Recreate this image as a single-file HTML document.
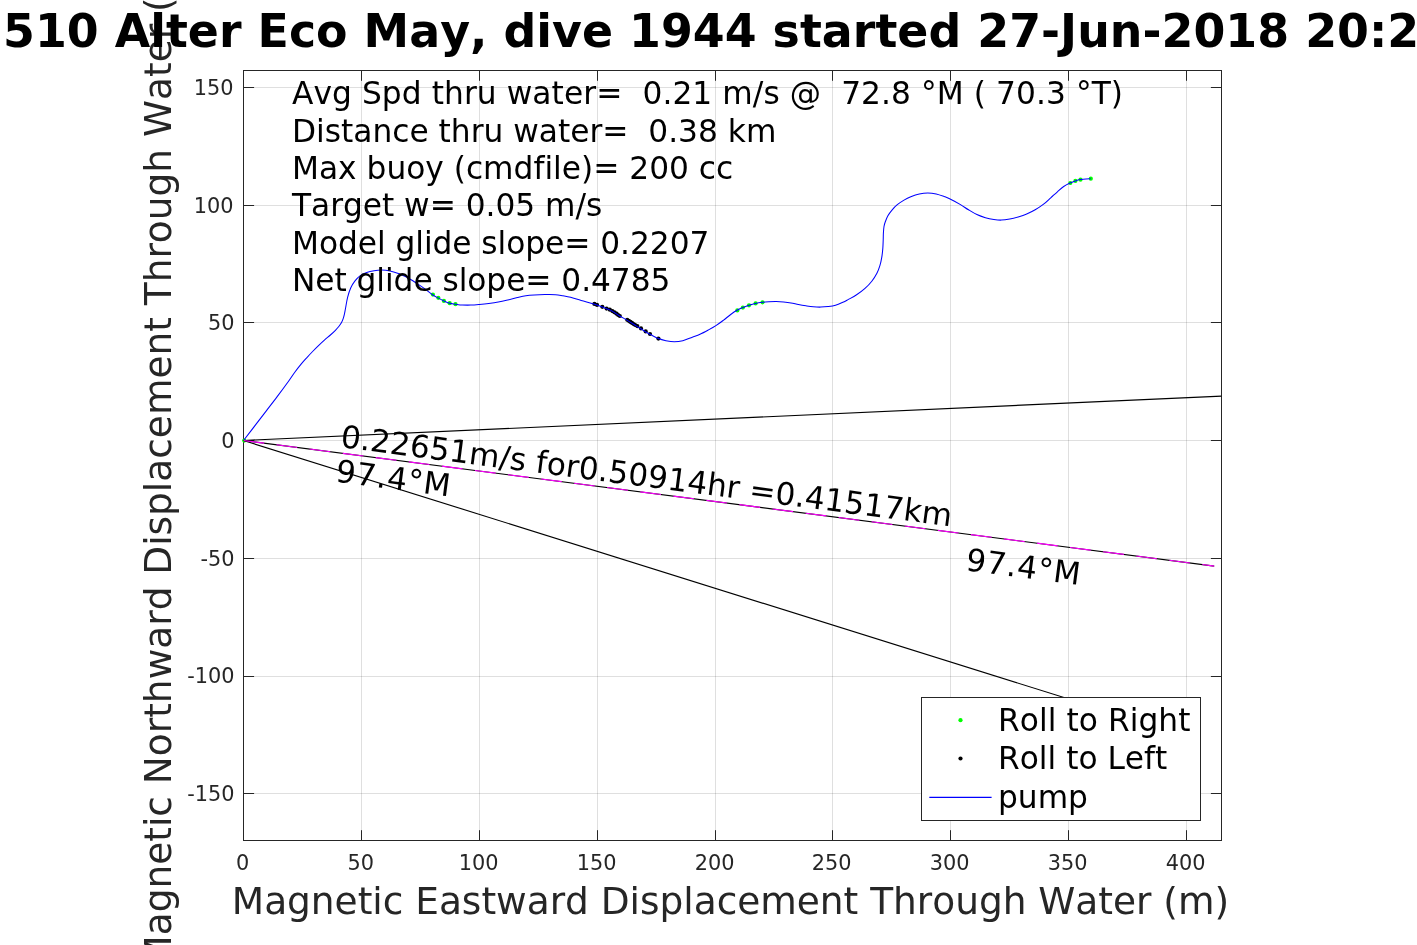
<!DOCTYPE html>
<html lang="en"><head><meta charset="utf-8"><title>510 Alter Eco May, dive 1944</title>
<style>html,body{margin:0;padding:0;background:#fff;overflow:hidden}svg{display:block}text{font-family:"DejaVu Sans","Liberation Sans",sans-serif;font-kerning:none;font-variant-ligatures:none;}.tk{font-size:20.83px;fill:#262626}.an{font-size:31.25px;fill:#000}.lb{font-size:37.5px;fill:#262626}.ti{font-size:45.83px;font-weight:bold;fill:#000}</style></head><body>
<svg width="1417" height="945" viewBox="0 0 1417 945">
<rect x="0" y="0" width="1417" height="945" fill="#fff"/>
<g stroke="#262626" stroke-opacity="0.15" stroke-width="1" fill="none">
<path d="M361.50,70.50 V840.50"/>
<path d="M479.50,70.50 V840.50"/>
<path d="M597.50,70.50 V840.50"/>
<path d="M715.50,70.50 V840.50"/>
<path d="M832.50,70.50 V840.50"/>
<path d="M950.50,70.50 V840.50"/>
<path d="M1068.50,70.50 V840.50"/>
<path d="M1186.50,70.50 V840.50"/>
<path d="M243.50,87.50 H1221.50"/>
<path d="M243.50,205.50 H1221.50"/>
<path d="M243.50,322.50 H1221.50"/>
<path d="M243.50,440.50 H1221.50"/>
<path d="M243.50,558.50 H1221.50"/>
<path d="M243.50,676.50 H1221.50"/>
<path d="M243.50,793.50 H1221.50"/>
</g>
<path d="M243.50,840.50 v-10.3 M243.50,70.50 v10.3 M361.50,840.50 v-10.3 M361.50,70.50 v10.3 M479.50,840.50 v-10.3 M479.50,70.50 v10.3 M597.50,840.50 v-10.3 M597.50,70.50 v10.3 M715.50,840.50 v-10.3 M715.50,70.50 v10.3 M832.50,840.50 v-10.3 M832.50,70.50 v10.3 M950.50,840.50 v-10.3 M950.50,70.50 v10.3 M1068.50,840.50 v-10.3 M1068.50,70.50 v10.3 M1186.50,840.50 v-10.3 M1186.50,70.50 v10.3 M243.50,87.50 h10.6 M1221.50,87.50 h-10.6 M243.50,205.50 h10.6 M1221.50,205.50 h-10.6 M243.50,322.50 h10.6 M1221.50,322.50 h-10.6 M243.50,440.50 h10.6 M1221.50,440.50 h-10.6 M243.50,558.50 h10.6 M1221.50,558.50 h-10.6 M243.50,676.50 h10.6 M1221.50,676.50 h-10.6 M243.50,793.50 h10.6 M1221.50,793.50 h-10.6" stroke="#262626" stroke-width="1" fill="none"/>
<rect x="243.50" y="70.50" width="978.00" height="770.00" fill="none" stroke="#262626" stroke-width="1"/>
<clipPath id="ax"><rect x="243.50" y="70.50" width="978.00" height="770.00"/></clipPath>
<g fill="#00ff00"><circle cx="244.2" cy="440.6" r="2.1"/><circle cx="432.9" cy="294.6" r="2.1"/><circle cx="438.3" cy="297.8" r="2.1"/><circle cx="443.9" cy="300.9" r="2.1"/><circle cx="449.7" cy="303.2" r="2.1"/><circle cx="455.5" cy="304.2" r="2.1"/><circle cx="737.3" cy="310.4" r="2.1"/><circle cx="742.9" cy="307.6" r="2.1"/><circle cx="749.0" cy="305.3" r="2.1"/><circle cx="755.6" cy="303.4" r="2.1"/><circle cx="762.5" cy="302.3" r="2.1"/><circle cx="1070.3" cy="183.0" r="2.1"/><circle cx="1075.4" cy="180.9" r="2.1"/><circle cx="1080.5" cy="179.7" r="2.1"/><circle cx="1090.8" cy="178.7" r="2.1"/></g>
<g fill="#000"><circle cx="594.4" cy="303.9" r="2.1"/><circle cx="597.0" cy="304.9" r="2.1"/><circle cx="602.3" cy="306.8" r="2.1"/><circle cx="606.6" cy="308.6" r="2.1"/><circle cx="609.8" cy="309.7" r="2.1"/><circle cx="612.4" cy="311.1" r="2.1"/><circle cx="614.5" cy="312.3" r="2.1"/><circle cx="616.6" cy="313.7" r="2.1"/><circle cx="618.2" cy="315.0" r="2.1"/><circle cx="619.8" cy="316.0" r="2.1"/><circle cx="627.2" cy="319.8" r="2.1"/><circle cx="628.8" cy="320.8" r="2.1"/><circle cx="630.4" cy="321.9" r="2.1"/><circle cx="632.0" cy="322.9" r="2.1"/><circle cx="633.6" cy="324.0" r="2.1"/><circle cx="635.2" cy="325.0" r="2.1"/><circle cx="637.3" cy="326.1" r="2.1"/><circle cx="641.0" cy="328.4" r="2.1"/><circle cx="645.7" cy="331.4" r="2.1"/><circle cx="650.0" cy="334.0" r="2.1"/><circle cx="658.4" cy="338.6" r="2.1"/></g>
<g clip-path="url(#ax)" fill="none" stroke-width="1.12">
<path d="M243.70,440.30 C245.73,437.65 252.10,429.35 255.90,424.40 C259.70,419.45 262.98,415.18 266.50,410.60 C270.02,406.02 273.27,401.88 277.00,396.90 C280.73,391.92 285.93,384.82 288.90,380.70 C291.87,376.58 292.83,374.88 294.80,372.20 C296.77,369.52 298.72,367.00 300.70,364.60 C302.68,362.20 304.72,359.98 306.70,357.80 C308.68,355.62 310.63,353.53 312.60,351.50 C314.57,349.47 316.53,347.50 318.50,345.60 C320.47,343.70 322.42,341.87 324.40,340.10 C326.38,338.33 328.57,336.63 330.40,335.00 C332.23,333.37 334.00,331.72 335.40,330.30 C336.80,328.88 337.80,327.77 338.80,326.50 C339.80,325.23 340.68,323.97 341.40,322.70 C342.12,321.43 342.62,320.23 343.10,318.90 C343.58,317.57 343.90,316.43 344.30,314.70 C344.70,312.97 344.95,311.40 345.50,308.50 C346.05,305.60 346.72,300.75 347.60,297.30 C348.48,293.85 349.57,290.53 350.80,287.80 C352.03,285.07 353.42,282.93 355.00,280.90 C356.58,278.87 358.35,277.00 360.30,275.60 C362.25,274.20 364.40,273.32 366.70,272.50 C369.00,271.68 371.63,271.12 374.10,270.70 C376.57,270.28 378.85,269.97 381.50,270.00 C384.15,270.03 387.18,270.32 390.00,270.90 C392.82,271.48 395.58,272.45 398.40,273.50 C401.22,274.55 403.90,275.60 406.90,277.20 C409.90,278.80 413.40,281.15 416.40,283.10 C419.40,285.05 422.22,286.97 424.90,288.90 C427.58,290.83 430.33,293.20 432.50,294.70 C434.67,296.20 436.00,296.85 437.90,297.90 C439.80,298.95 441.93,300.10 443.90,301.00 C445.87,301.90 447.77,302.77 449.70,303.30 C451.63,303.83 453.40,303.92 455.50,304.20 C457.60,304.48 459.75,304.85 462.30,305.00 C464.85,305.15 467.97,305.18 470.80,305.10 C473.63,305.02 476.30,304.77 479.30,304.50 C482.30,304.23 485.63,303.90 488.80,303.50 C491.97,303.10 495.12,302.68 498.30,302.10 C501.48,301.52 504.72,300.75 507.90,300.00 C511.08,299.25 514.40,298.30 517.40,297.60 C520.40,296.90 523.08,296.23 525.90,295.80 C528.72,295.37 531.13,295.20 534.30,295.00 C537.47,294.80 541.37,294.65 544.90,294.60 C548.43,294.55 552.50,294.50 555.50,294.70 C558.50,294.90 560.38,295.37 562.90,295.80 C565.42,296.23 567.55,296.52 570.60,297.30 C573.65,298.08 577.32,299.37 581.20,300.50 C585.08,301.63 590.38,303.02 593.90,304.10 C597.42,305.18 599.48,305.95 602.30,307.00 C605.12,308.05 607.97,308.95 610.80,310.40 C613.63,311.85 616.48,314.00 619.30,315.70 C622.12,317.40 624.88,318.90 627.70,320.60 C630.52,322.30 633.37,324.13 636.20,325.90 C639.03,327.67 642.23,329.72 644.70,331.20 C647.17,332.68 648.72,333.57 651.00,334.80 C653.28,336.03 655.92,337.62 658.40,338.60 C660.88,339.58 663.25,340.17 665.90,340.70 C668.55,341.23 671.48,341.80 674.30,341.80 C677.12,341.80 679.80,341.47 682.80,340.70 C685.80,339.93 689.43,338.27 692.30,337.20 C695.17,336.13 697.30,335.52 700.00,334.30 C702.70,333.08 705.85,331.35 708.50,329.90 C711.15,328.45 713.43,327.20 715.90,325.60 C718.37,324.00 720.83,322.15 723.30,320.30 C725.77,318.45 728.42,316.17 730.70,314.50 C732.98,312.83 734.97,311.48 737.00,310.30 C739.03,309.12 740.87,308.23 742.90,307.40 C744.93,306.57 747.08,305.97 749.20,305.30 C751.32,304.63 753.38,303.90 755.60,303.40 C757.82,302.90 760.30,302.57 762.50,302.30 C764.70,302.03 766.52,301.92 768.80,301.80 C771.08,301.68 773.73,301.57 776.20,301.60 C778.67,301.63 781.13,301.78 783.60,302.00 C786.07,302.22 788.53,302.48 791.00,302.90 C793.47,303.32 795.92,304.02 798.40,304.50 C800.88,304.98 803.42,305.42 805.90,305.80 C808.38,306.18 810.83,306.58 813.30,306.80 C815.77,307.02 818.23,307.13 820.70,307.10 C823.17,307.07 825.63,306.90 828.10,306.60 C830.57,306.30 833.03,306.02 835.50,305.30 C837.97,304.58 840.80,303.25 842.90,302.30 C845.00,301.35 845.82,300.85 848.10,299.60 C850.38,298.35 853.78,296.67 856.60,294.80 C859.42,292.93 862.47,290.67 865.00,288.40 C867.53,286.13 869.82,283.73 871.80,281.20 C873.78,278.67 875.55,275.80 876.90,273.20 C878.25,270.60 879.08,268.28 879.90,265.60 C880.72,262.92 881.32,259.93 881.80,257.10 C882.28,254.27 882.57,251.42 882.80,248.60 C883.03,245.78 883.10,242.80 883.20,240.20 C883.30,237.60 883.27,235.28 883.40,233.00 C883.53,230.72 883.68,228.37 884.00,226.50 C884.32,224.63 884.65,223.60 885.30,221.80 C885.95,220.00 886.75,217.70 887.90,215.70 C889.05,213.70 890.63,211.63 892.20,209.80 C893.77,207.97 895.33,206.32 897.30,204.70 C899.27,203.08 901.75,201.43 904.00,200.10 C906.25,198.77 908.25,197.73 910.80,196.70 C913.35,195.67 916.47,194.53 919.30,193.90 C922.13,193.27 924.98,192.90 927.80,192.90 C930.62,192.90 933.38,193.27 936.20,193.90 C939.02,194.53 942.30,195.82 944.70,196.70 C947.10,197.58 947.97,197.88 950.60,199.20 C953.23,200.52 957.52,202.83 960.50,204.60 C963.48,206.37 965.77,208.13 968.50,209.80 C971.23,211.47 974.08,213.28 976.90,214.60 C979.72,215.92 982.57,216.88 985.40,217.70 C988.23,218.52 991.25,219.10 993.90,219.50 C996.55,219.90 998.65,220.18 1001.30,220.10 C1003.95,220.02 1006.98,219.53 1009.80,219.00 C1012.62,218.47 1015.38,217.73 1018.20,216.90 C1021.02,216.07 1023.87,215.18 1026.70,214.00 C1029.53,212.82 1032.38,211.43 1035.20,209.80 C1038.02,208.17 1040.97,206.23 1043.60,204.20 C1046.23,202.17 1048.70,199.67 1051.00,197.60 C1053.30,195.53 1055.28,193.65 1057.40,191.80 C1059.52,189.95 1061.58,187.97 1063.70,186.50 C1065.82,185.03 1068.15,183.93 1070.10,183.00 C1072.05,182.07 1073.63,181.47 1075.40,180.90 C1077.17,180.33 1078.93,179.93 1080.70,179.60 C1082.47,179.27 1084.33,179.05 1086.00,178.90 C1087.67,178.75 1089.92,178.73 1090.70,178.70" stroke="#0000ff" stroke-width="1.05"/>
<path d="M243.5,440.5 L1221.5,396.1" stroke="#000"/>
<path d="M243.5,440.5 L1100,708.8" stroke="#000"/>
<path d="M243.5,440.5 L1214.2,566.1" stroke="#000"/>
<path d="M243.5,440.5 L1214.2,566.1" stroke="#ff00ff" stroke-dasharray="20.84 12.5"/>
</g>
<text class="tk" x="242.65" y="870" text-anchor="middle">0</text>
<text class="tk" x="360.65" y="870" text-anchor="middle">50</text>
<text class="tk" x="478.65" y="870" text-anchor="middle">100</text>
<text class="tk" x="596.65" y="870" text-anchor="middle">150</text>
<text class="tk" x="714.65" y="870" text-anchor="middle">200</text>
<text class="tk" x="831.65" y="870" text-anchor="middle">250</text>
<text class="tk" x="949.65" y="870" text-anchor="middle">300</text>
<text class="tk" x="1067.65" y="870" text-anchor="middle">350</text>
<text class="tk" x="1185.65" y="870" text-anchor="middle">400</text>
<text class="tk" x="233.6" y="95" text-anchor="end">150</text>
<text class="tk" x="233.6" y="213" text-anchor="end">100</text>
<text class="tk" x="234.6" y="330" text-anchor="end">50</text>
<text class="tk" x="234.6" y="448" text-anchor="end">0</text>
<text class="tk" x="234.6" y="566" text-anchor="end">-50</text>
<text class="tk" x="234.6" y="683" text-anchor="end">-100</text>
<text class="tk" x="234.6" y="801" text-anchor="end">-150</text>
<text class="lb" x="231.8" y="914" textLength="997.3">Magnetic Eastward Displacement Through Water (m)</text>
<text class="lb" transform="translate(170.5,967.64) rotate(-90)" textLength="1021.4">Magnetic Northward Displacement Through Water (m)</text>
<text class="ti" x="3" y="47" textLength="1416.2" xml:space="preserve">510 Alter Eco May, dive 1944 started 27-Jun-2018 20:2</text>
<text class="an" x="292" y="104" xml:space="preserve" textLength="831">Avg Spd thru water=  0.21 m/s @  72.8 °M ( 70.3 °T)</text>
<text class="an" x="292" y="142" xml:space="preserve">Distance thru water=  0.38 km</text>
<text class="an" x="292" y="179" xml:space="preserve">Max buoy (cmdfile)= 200 cc</text>
<text class="an" x="292" y="216" xml:space="preserve" textLength="310.2">Target w= 0.05 m/s</text>
<text class="an" x="292" y="254" xml:space="preserve" textLength="417.4">Model glide slope= 0.2207</text>
<text class="an" x="292" y="291" xml:space="preserve" textLength="378.4">Net glide slope= 0.4785</text>
<text class="an" transform="translate(339.7,447) rotate(7.4)" textLength="616.2">0.22651m/s for0.50914hr =0.41517km</text>
<text class="an" transform="translate(334.8,481.6) rotate(7.4)" textLength="115.2">97.4°M</text>
<text class="an" transform="translate(965,570.2) rotate(7.4)" textLength="115">97.4°M</text>
<rect x="921.5" y="697.5" width="279" height="123" fill="#fff" stroke="#262626" stroke-width="1"/>
<circle cx="960.5" cy="720.2" r="2.1" fill="#00ff00"/>
<circle cx="960.5" cy="758.5" r="2.1" fill="#000"/>
<path d="M929.3,797.4 H991.6" stroke="#0000ff" stroke-width="1.3"/>
<text class="an" x="998" y="731" textLength="192.5">Roll to Right</text>
<text class="an" x="998" y="769">Roll to Left</text>
<text class="an" x="998" y="808">pump</text>
</svg></body></html>
